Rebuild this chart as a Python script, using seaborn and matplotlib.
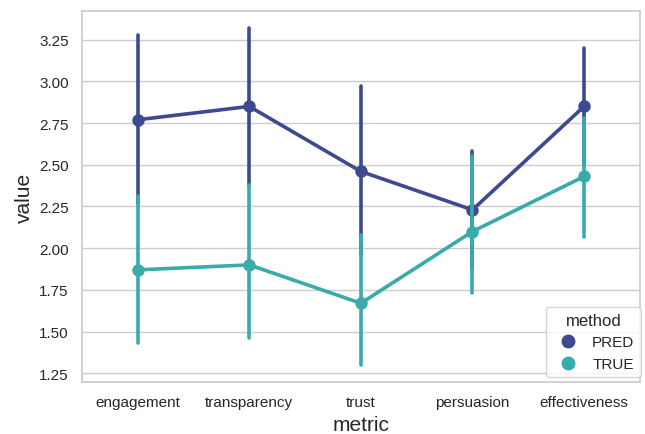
import numpy as np
import pandas as pd
import seaborn as sns
import matplotlib
matplotlib.use("Agg")
import matplotlib.pyplot as plt
from matplotlib.lines import Line2D

metrics = ["engagement", "transparency", "trust", "persuasion", "effectiveness"]
methods = ["PRED", "TRUE"]

pred_mean = [2.77, 2.85, 2.46, 2.23, 2.85]
pred_lo = [2.27, 2.38, 1.96, 1.88, 2.50]
pred_hi = [3.28, 3.32, 2.97, 2.58, 3.20]

true_mean = [1.87, 1.90, 1.67, 2.10, 2.43]
true_lo = [1.43, 1.46, 1.30, 1.73, 2.07]
true_hi = [2.31, 2.38, 2.08, 2.55, 2.78]

palette = {"PRED": "#3d4a8f", "TRUE": "#38abaa"}

rows = []
for method, means, los, his in [("PRED", pred_mean, pred_lo, pred_hi),
                                ("TRUE", true_mean, true_lo, true_hi)]:
    for m, mu, lo, hi in zip(metrics, means, los, his):
        for v in (lo, mu, hi):
            rows.append({"metric": m, "method": method, "value": v})
df = pd.DataFrame(rows)

sns.set_theme(style="whitegrid")
plt.rcParams["font.family"] = ["Liberation Sans", "DejaVu Sans"]
fig, ax = plt.subplots(figsize=(6.45, 4.35), dpi=100)
sns.pointplot(data=df, x="metric", y="value", hue="method", order=metrics,
              hue_order=methods, palette=palette, estimator="median",
              errorbar=("pi", 100), ax=ax, linewidth=2.6, markersize=7)

ax.set_xlabel("metric", fontsize=15, color="#262626")
ax.set_ylabel("value", fontsize=15, color="#262626")
ax.tick_params(axis="both", labelsize=11, labelcolor="#262626")
ax.set_yticks([1.25, 1.5, 1.75, 2.0, 2.25, 2.5, 2.75, 3.0, 3.25])
ax.set_yticklabels(["1.25", "1.50", "1.75", "2.00", "2.25", "2.50", "2.75", "3.00", "3.25"])
for s in ax.spines.values():
    s.set_color("#cccccc")

handles = [Line2D([], [], linestyle="none", marker="o", markersize=9,
                  color=palette[m]) for m in methods]
ax.legend(handles, methods, title="method", loc="lower right", fontsize=11,
          title_fontsize=12, bbox_to_anchor=(1.015, -0.008), handletextpad=0.6)

fig.subplots_adjust(left=0.127, right=0.992, top=0.972, bottom=0.12)
fig.savefig("out.png", dpi=100)
